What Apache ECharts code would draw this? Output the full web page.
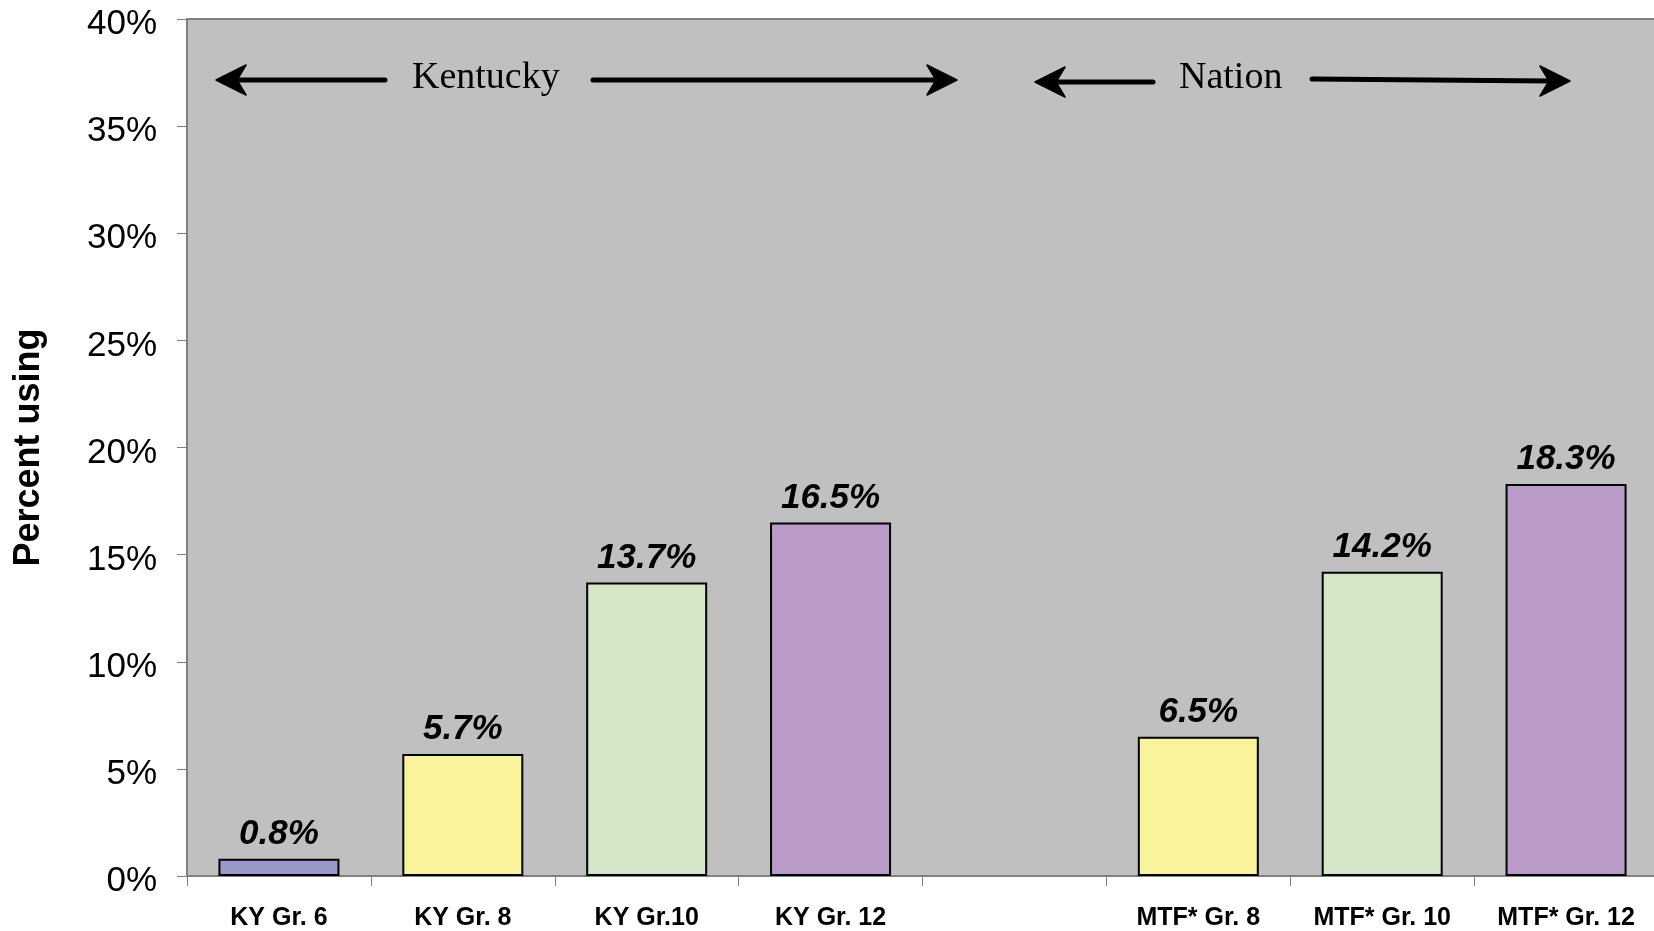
<!DOCTYPE html>
<html>
<head>
<meta charset="utf-8">
<style>
html,body{margin:0;padding:0;background:#fff;}
#chart{width:1654px;height:931px;}
</style>
<script src="https://cdn.jsdelivr.net/npm/echarts@6/dist/echarts.min.js"></script>
</head>
<body>
<div id="chart"></div>
<script>
const categories = ['KY Gr. 6', 'KY Gr. 8', 'KY Gr.10', 'KY Gr. 12', '', 'MTF* Gr. 8', 'MTF* Gr. 10', 'MTF* Gr. 12'];
const values = [0.8, 5.7, 13.7, 16.5, null, 6.5, 14.2, 18.3];
const barColors = ['#9a97c9', '#f9f39b', '#d3e6c6', '#b99ac8', '#c0c0c0', '#f9f39b', '#d3e6c6', '#b99ac8'];
const yTicks = [0, 5, 10, 15, 20, 25, 30, 35, 40];
const groupLabels = ['Kentucky', 'Nation'];

const chart = echarts.init(document.getElementById('chart'));
const font = "'Liberation Sans', Arial, sans-serif";
const serif = "'Liberation Serif', 'Times New Roman', serif";

function arrow(x1, x2, y1, y2, dir) {
  // dir: -1 tip on left, 1 tip on right
  const tipX = dir < 0 ? x1 : x2;
  const tipY = dir < 0 ? y1 : y2;
  const lx1 = dir < 0 ? x1 + 20 : x1;
  const lx2 = dir < 0 ? x2 : x2 - 20;
  return [
    {type: 'line', shape: {x1: lx1, y1: y1, x2: lx2, y2: y2}, style: {stroke: '#000', lineWidth: 5, lineCap: 'round'}, z: 100},
    {type: 'polygon', shape: {points: [[tipX, tipY], [tipX - dir * 30, tipY - 15], [tipX - dir * 21, tipY], [tipX - dir * 30, tipY + 15]]}, style: {fill: '#000', stroke: '#000', lineWidth: 1.5, lineJoin: 'round'}, z: 100}
  ];
}

const option = {
  backgroundColor: '#ffffff',
  animation: false,
  grid: {left: 187, top: 19, right: -4, bottom: 55, show: true, backgroundColor: '#c0c0c0', borderColor: '#808080', borderWidth: 2, outerBoundsMode: 'none', containLabel: false},
  xAxis: {
    type: 'category',
    data: categories,
    axisLine: {lineStyle: {color: '#808080', width: 2}},
    axisTick: {show: true, length: 10, lineStyle: {color: '#808080', width: 1}},
    axisLabel: {color: '#000', fontFamily: font, fontWeight: 'bold', fontSize: 25, margin: 30, interval: 0}
  },
  yAxis: {
    type: 'value',
    min: 0, max: 40, interval: 5,
    name: 'Percent using',
    nameLocation: 'middle',
    nameRotate: 90,
    nameGap: 140,
    nameTextStyle: {color: '#000', fontFamily: font, fontWeight: 'bold', fontSize: 36},
    axisLine: {show: true, lineStyle: {color: '#808080', width: 2}},
    axisTick: {show: true, length: 10, lineStyle: {color: '#808080', width: 1}},
    splitLine: {show: false},
    axisLabel: {color: '#000', fontFamily: font, fontSize: 35, margin: 30, verticalAlign: 'top', lineHeight: 11, formatter: v => yTicks.includes(v) ? v + '%' : ''}
  },
  series: [{
    type: 'bar',
    data: values.map((v, i) => v == null ? null : {value: v, itemStyle: {color: barColors[i]}}),
    barWidth: 121,
    itemStyle: {borderColor: '#000', borderWidth: 2},
    label: {
      show: true, position: 'top', distance: 7,
      color: '#000', fontFamily: font, fontWeight: 'bold', fontStyle: 'italic', fontSize: 35,
      formatter: p => p.value.toFixed(1) + '%'
    }
  }],
  graphic: [
    ...arrow(216, 385, 80, 80, -1),
    ...arrow(593, 957, 80, 80, 1),
    {type: 'text', left: 412, top: 59, style: {text: groupLabels[0], font: '38px ' + serif, fill: '#000'}, z: 100},
    ...arrow(1035, 1153, 82, 82, -1),
    ...arrow(1312, 1570, 79, 81, 1),
    {type: 'text', left: 1179, top: 59, style: {text: groupLabels[1], font: '38px ' + serif, fill: '#000'}, z: 100}
  ]
};
chart.setOption(option);
</script>
</body>
</html>
